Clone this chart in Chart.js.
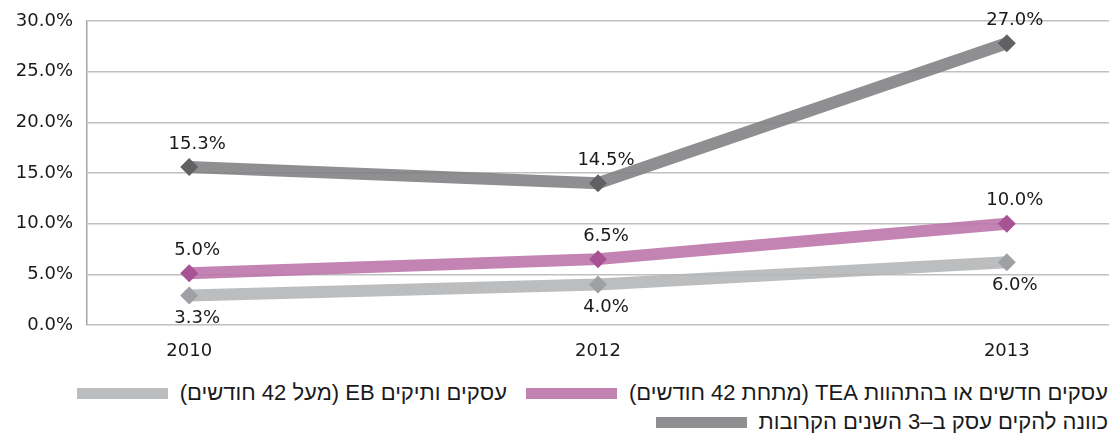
<!DOCTYPE html>
<html lang="he">
<head>
<meta charset="UTF-8">
<title>GEM</title>
<style>
    html, body { margin: 0; padding: 0; background: #ffffff; }
    .wrap { position: relative; width: 1109px; height: 437px; overflow: hidden; }
    #gemChart { position: absolute; left: 0; top: 0; }
    .legend { position: absolute; font-family: "Liberation Sans", "DejaVu Sans", sans-serif; font-size: 22px; line-height: 26px; color: #1a1a1a; direction: rtl; white-space: nowrap; }
    .legend .item { position: absolute; display: flex; align-items: center; }
    .legend .box { display: inline-block; width: 91px; height: 11px; margin-right: 12px; }
</style>
</head>
<body>
<div class="wrap">
    <canvas id="gemChart" width="1109" height="369"></canvas>
    <div class="legend" id="legend"></div>
</div>

<script src="https://cdn.jsdelivr.net/npm/chart.js"></script>
<script>
// נתונים
const years = ['2010', '2012', '2013'];
const yTicks = [0, 5, 10, 15, 20, 25, 30];

const teaValues = [5.1, 6.5, 10.0];
const ebValues = [2.9, 4.0, 6.2];
const intentValues = [15.6, 14.0, 27.8];

const teaLabels = ['5.0%', '6.5%', '10.0%'];
const ebLabels = ['3.3%', '4.0%', '6.0%'];
const intentLabels = ['15.3%', '14.5%', '27.0%'];

const seriesNames = [
    'עסקים חדשים או בהתהוות TEA (מתחת 42 חודשים)',
    'עסקים ותיקים EB (מעל 42 חודשים)',
    'כוונה להקים עסק ב–3 השנים הקרובות'
];

const FONT = 'DejaVu Sans';

function points(values) {
    return values.map((v, i) => ({ x: i, y: v }));
}

// תוויות ערכים
const valueLabels = {
    id: 'valueLabels',
    afterDatasetsDraw(chart) {
        const ctx = chart.ctx;
        ctx.save();
        ctx.font = '18px "' + FONT + '"';
        ctx.fillStyle = '#1a1a1a';
        ctx.textAlign = 'center';
        ctx.textBaseline = 'middle';
        chart.data.datasets.forEach((ds, i) => {
            const meta = chart.getDatasetMeta(i);
            meta.data.forEach((pt, j) => {
                const dy = ds.labelPos === 'below' ? 23 : -23;
                ctx.fillText(ds.valueText[j], pt.x + 8, pt.y + dy);
            });
        });
        ctx.restore();
    }
};

const ctx = document.getElementById('gemChart').getContext('2d');
const chart = new Chart(ctx, {
    type: 'line',
    data: {
        datasets: [
            {
                label: seriesNames[0],
                data: points(teaValues),
                valueText: teaLabels,
                labelPos: 'above',
                borderColor: 'rgba(187,114,168,0.88)',
                backgroundColor: '#a65293',
                pointBackgroundColor: '#a65293',
                swatch: '#c383b2'
            },
            {
                label: seriesNames[1],
                data: points(ebValues),
                valueText: ebLabels,
                labelPos: 'below',
                borderColor: 'rgba(179,180,182,0.88)',
                backgroundColor: '#9fa0a3',
                pointBackgroundColor: '#9fa0a3',
                swatch: '#bcbdbf'
            },
            {
                label: seriesNames[2],
                data: points(intentValues),
                valueText: intentLabels,
                labelPos: 'above',
                borderColor: 'rgba(128,128,130,0.88)',
                backgroundColor: '#606163',
                pointBackgroundColor: '#606163',
                swatch: '#8f8f91'
            }
        ]
    },
    options: {
        responsive: false,
        animation: false,
        layout: { autoPadding: false, padding: { top: 21, right: 0, left: 0, bottom: 0 } },
        elements: {
            line: { borderWidth: 12, tension: 0, borderCapStyle: 'butt' },
            point: { pointStyle: 'rectRot', radius: 9, borderWidth: 0, hoverRadius: 9 }
        },
        scales: {
            x: {
                type: 'linear',
                min: -0.25,
                max: 2.25,
                afterBuildTicks: (scale) => { scale.ticks = years.map((y, i) => ({ value: i })); },
                afterFit: (scale) => {
                    scale.height = 44;
                    scale.paddingLeft = 0;
                    scale.paddingRight = 0;
                },
                ticks: {
                    callback: (v) => years[v],
                    color: '#1a1a1a',
                    font: { family: FONT, size: 18 },
                    padding: 16,
                    maxRotation: 0
                },
                grid: { display: false, drawTicks: false },
                border: { display: false }
            },
            y: {
                min: 0,
                max: 30,
                afterBuildTicks: (scale) => { scale.ticks = yTicks.map(v => ({ value: v })); },
                afterFit: (scale) => {
                    scale.width = 87;
                    scale.paddingTop = 0;
                    scale.paddingBottom = 0;
                },
                ticks: {
                    callback: (v) => v.toFixed(1) + '%',
                    color: '#1a1a1a',
                    font: { family: FONT, size: 18 },
                    padding: 14
                },
                grid: { color: '#c0c0c0', lineWidth: 1.5, drawTicks: false },
                border: { display: true, color: '#a6a6a6', width: 1.5 }
            }
        },
        plugins: {
            legend: { display: false },
            tooltip: { enabled: false }
        }
    },
    plugins: [valueLabels]
});

// מקרא
const legendPlaces = [
    { right: 1, top: 380 },
    { right: 602, top: 380 },
    { right: 1, top: 409 }
];
const legend = document.getElementById('legend');
legend.style.left = '0px';
legend.style.top = '0px';
legend.style.width = '1109px';
chart.data.datasets.forEach((ds, i) => {
    const item = document.createElement('div');
    item.className = 'item';
    item.style.right = legendPlaces[i].right + 'px';
    item.style.top = legendPlaces[i].top + 'px';
    const txt = document.createElement('span');
    txt.textContent = ds.label;
    const box = document.createElement('span');
    box.className = 'box';
    box.style.background = ds.swatch;
    item.appendChild(txt);
    item.appendChild(box);
    legend.appendChild(item);
});
</script>
</body>
</html>
